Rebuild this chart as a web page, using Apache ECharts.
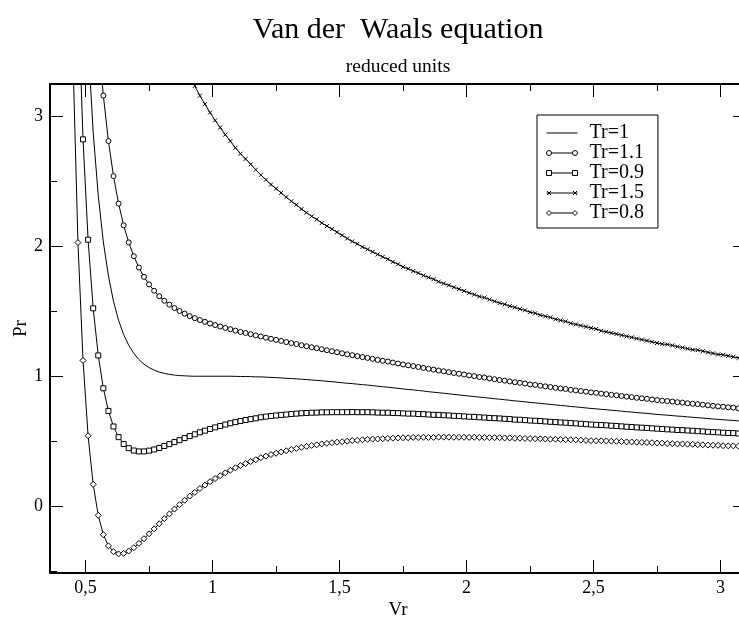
<!DOCTYPE html>
<html>
<head>
<meta charset="utf-8">
<script src="https://cdn.jsdelivr.net/npm/echarts@6/dist/echarts.min.js"></script>
<style>
  html, body { margin: 0; padding: 0; background: #fff; }
  #chart { width: 739px; height: 617px; }
</style>
</head>
<body>
<div id="chart"></div>
<script>
// reduced volume (x) - same grid for every curve
var vr = [0.45,0.47,0.49,0.51,0.53,0.55,0.57,0.59,0.61,0.63,0.65,0.67,0.69,0.71,0.73,0.75,0.77,0.79,0.81,0.83,
  0.85,0.87,0.89,0.91,0.93,0.95,0.97,0.99,1.01,1.03,1.05,1.07,1.09,1.11,1.13,1.15,1.17,1.19,1.21,1.23,
  1.25,1.27,1.29,1.31,1.33,1.35,1.37,1.39,1.41,1.43,1.45,1.47,1.49,1.51,1.53,1.55,1.57,1.59,1.61,1.63,
  1.65,1.67,1.69,1.71,1.73,1.75,1.77,1.79,1.81,1.83,1.85,1.87,1.89,1.91,1.93,1.95,1.97,1.99,2.01,2.03,
  2.05,2.07,2.09,2.11,2.13,2.15,2.17,2.19,2.21,2.23,2.25,2.27,2.29,2.31,2.33,2.35,2.37,2.39,2.41,2.43,
  2.45,2.47,2.49,2.51,2.53,2.55,2.57,2.59,2.61,2.63,2.65,2.67,2.69,2.71,2.73,2.75,2.77,2.79,2.81,2.83,
  2.85,2.87,2.89,2.91,2.93,2.95,2.97,2.99,3.01,3.03,3.05,3.07,3.09,3.11];

// reduced pressure for each Tr
var prT10 = [8.042,5.931,4.526,3.560,2.879,2.391,2.034,1.772,1.577,1.430,1.320,1.238,1.176,1.129,1.093,1.067,1.047,1.032,1.022,1.014,
  1.009,1.005,1.003,1.001,1.000,1.000,1.000,1.000,1.000,1.000,1.000,1.000,0.999,0.998,0.998,0.997,0.995,0.995,0.993,0.991,
  0.989,0.987,0.984,0.982,0.980,0.977,0.974,0.971,0.968,0.965,0.961,0.958,0.954,0.950,0.946,0.943,0.939,0.935,0.932,0.928,
  0.923,0.919,0.916,0.911,0.907,0.902,0.898,0.895,0.890,0.886,0.881,0.877,0.873,0.869,0.865,0.860,0.856,0.852,0.847,0.844,
  0.839,0.836,0.831,0.827,0.823,0.819,0.815,0.810,0.807,0.803,0.798,0.795,0.791,0.787,0.783,0.779,0.775,0.772,0.767,0.764,
  0.760,0.756,0.752,0.749,0.745,0.742,0.738,0.735,0.731,0.727,0.724,0.720,0.717,0.714,0.710,0.706,0.703,0.700,0.697,0.693,
  0.691,0.687,0.684,0.681,0.678,0.674,0.671,0.668,0.665,0.662,0.660,0.656,0.653,0.650];

var prT11 = [10.328,7.882,6.228,5.069,4.235,3.622,3.161,2.811,2.541,2.329,2.162,2.030,1.924,1.837,1.765,1.707,1.658,1.616,1.581,1.551,
  1.525,1.502,1.482,1.463,1.447,1.432,1.419,1.406,1.394,1.383,1.372,1.362,1.351,1.341,1.333,1.324,1.314,1.306,1.297,1.288,
  1.280,1.272,1.263,1.255,1.248,1.239,1.231,1.223,1.216,1.208,1.200,1.193,1.185,1.177,1.169,1.162,1.155,1.147,1.141,1.134,
  1.126,1.119,1.113,1.105,1.098,1.090,1.084,1.078,1.071,1.064,1.057,1.051,1.044,1.038,1.032,1.025,1.019,1.013,1.006,1.001,
  0.994,0.990,0.983,0.977,0.971,0.966,0.960,0.954,0.949,0.944,0.937,0.933,0.927,0.922,0.917,0.911,0.906,0.902,0.895,0.891,
  0.886,0.881,0.876,0.872,0.866,0.862,0.857,0.853,0.848,0.843,0.839,0.834,0.830,0.826,0.821,0.816,0.812,0.809,0.805,0.800,
  0.797,0.792,0.788,0.785,0.781,0.776,0.772,0.768,0.765,0.761,0.758,0.753,0.750,0.746];

var prT09 = [5.756,3.980,2.824,2.051,1.523,1.160,0.907,0.733,0.613,0.531,0.478,0.446,0.428,0.421,0.421,0.427,0.436,0.448,0.463,0.477,
  0.493,0.508,0.524,0.539,0.553,0.568,0.581,0.594,0.606,0.617,0.628,0.638,0.647,0.655,0.663,0.670,0.676,0.684,0.689,0.694,
  0.698,0.702,0.705,0.709,0.712,0.715,0.717,0.719,0.720,0.722,0.722,0.723,0.723,0.723,0.723,0.724,0.723,0.723,0.723,0.722,
  0.720,0.719,0.719,0.717,0.716,0.714,0.712,0.712,0.709,0.708,0.705,0.703,0.702,0.700,0.698,0.695,0.693,0.691,0.688,0.687,
  0.684,0.682,0.679,0.677,0.675,0.672,0.670,0.666,0.665,0.662,0.659,0.657,0.655,0.652,0.649,0.647,0.644,0.642,0.639,0.637,
  0.634,0.631,0.628,0.626,0.624,0.622,0.619,0.617,0.614,0.611,0.609,0.606,0.604,0.602,0.599,0.596,0.594,0.591,0.589,0.586,
  0.585,0.582,0.580,0.577,0.575,0.572,0.570,0.568,0.565,0.563,0.562,0.559,0.556,0.554];

var prT15 = [19.472,15.686,13.036,11.105,9.659,8.546,7.669,6.967,6.397,5.925,5.530,5.198,4.916,4.669,4.453,4.267,4.102,3.952,3.817,3.699,
  3.589,3.490,3.398,3.311,3.235,3.160,3.095,3.030,2.970,2.915,2.860,2.810,2.759,2.713,2.673,2.632,2.590,2.550,2.513,2.476,
  2.444,2.412,2.379,2.347,2.320,2.287,2.259,2.231,2.208,2.180,2.156,2.133,2.109,2.085,2.061,2.038,2.019,1.995,1.977,1.958,
  1.938,1.919,1.901,1.881,1.862,1.842,1.828,1.810,1.795,1.776,1.761,1.747,1.728,1.714,1.700,1.685,1.671,1.657,1.642,1.629,
  1.614,1.606,1.591,1.577,1.563,1.554,1.540,1.530,1.517,1.508,1.493,1.485,1.471,1.462,1.453,1.439,1.430,1.422,1.407,1.399,
  1.390,1.381,1.372,1.364,1.350,1.342,1.333,1.325,1.316,1.307,1.299,1.290,1.282,1.274,1.265,1.256,1.248,1.245,1.237,1.228,
  1.221,1.212,1.204,1.201,1.193,1.184,1.176,1.168,1.165,1.157,1.150,1.141,1.138,1.130];

var prT08 = [3.470,2.029,1.122,0.542,0.167,-0.071,-0.220,-0.306,-0.351,-0.368,-0.364,-0.346,-0.320,-0.287,-0.251,-0.213,-0.175,-0.136,-0.096,-0.060,
  -0.023,0.011,0.045,0.077,0.106,0.136,0.162,0.188,0.212,0.234,0.256,0.276,0.295,0.312,0.328,0.343,0.357,0.373,0.385,0.397,
  0.407,0.417,0.426,0.436,0.444,0.453,0.460,0.467,0.472,0.479,0.483,0.488,0.492,0.496,0.500,0.505,0.507,0.511,0.514,0.516,
  0.517,0.519,0.522,0.523,0.525,0.526,0.526,0.529,0.528,0.530,0.529,0.529,0.531,0.531,0.531,0.530,0.530,0.530,0.529,0.530,
  0.529,0.528,0.527,0.527,0.527,0.525,0.525,0.522,0.523,0.521,0.520,0.519,0.519,0.517,0.515,0.515,0.513,0.512,0.511,0.510,
  0.508,0.506,0.504,0.503,0.503,0.502,0.500,0.499,0.497,0.495,0.494,0.492,0.491,0.490,0.488,0.486,0.485,0.482,0.481,0.479,
  0.479,0.477,0.476,0.473,0.472,0.470,0.469,0.468,0.465,0.464,0.464,0.462,0.459,0.458];

var xMajor = [0.5, 1, 1.5, 2, 2.5, 3];
var xMinor = [0.75, 1.25, 1.75, 2.25, 2.75];
var yMajor = [0, 1, 2, 3];
var yMinor = [-0.5, 0.5, 1.5, 2.5];

var FONT = 'Liberation Serif';

function pairs(ys) {
  return vr.map(function (v, i) { return [v, ys[i]]; });
}

var chart = echarts.init(document.getElementById('chart'), null, { renderer: 'canvas' });

var X_MIN = 0.36, X_MAX = 3.1, Y_MIN = -0.515, Y_MAX = 3.25;

function tickAxis(pos, values, len, showLine) {
  var isX = pos === 'top' || pos === 'bottom';
  return {
    type: 'value', position: pos, min: isX ? X_MIN : Y_MIN, max: isX ? X_MAX : Y_MAX,
    axisLine: { show: showLine, onZero: false, lineStyle: { color: '#000', width: 2 } },
    axisTick: { show: true, inside: true, length: len, customValues: values, lineStyle: { color: '#000', width: 1 } },
    axisLabel: { show: false },
    splitLine: { show: false }
  };
}

var symStyle = { color: '#fff', borderColor: '#000', borderWidth: 1 };

// legend keys: grace style, a symbol at both ends of the line
var keyIcons = {
  'Tr=1':   'path://M0 0L0 0M0 2.5L31 2.5M31 5L31 5',
  'Tr=1.1': 'path://M0 2.5A2.5 2.5 0 1 1 5 2.5A2.5 2.5 0 1 1 0 2.5ZM5 2.5L26 2.5M26 2.5A2.5 2.5 0 1 1 31 2.5A2.5 2.5 0 1 1 26 2.5Z',
  'Tr=0.9': 'path://M0 0L5 0L5 5L0 5ZM5 2.5L26 2.5M26 0L31 0L31 5L26 5Z',
  'Tr=1.5': 'path://M0.5 0.5L4.5 4.5M0.5 4.5L4.5 0.5M0 2.5L31 2.5M26.5 0.5L30.5 4.5M26.5 4.5L30.5 0.5M0 0L0 0M31 5L31 5',
  'Tr=0.8': 'path://M0 2.5L2.5 0L5 2.5L2.5 5ZM5 2.5L26 2.5M26 2.5L28.5 0L31 2.5L28.5 5Z'
};
var legendNames = ['Tr=1', 'Tr=1.1', 'Tr=0.9', 'Tr=1.5', 'Tr=0.8'];

var option = {
  animation: false,
  backgroundColor: '#fff',
  title: {
    text: 'Van der  Waals equation',
    subtext: 'reduced units',
    left: 398, top: 15, textAlign: 'center', padding: 0, itemGap: 12,
    textStyle: { fontFamily: FONT, fontSize: 30, fontWeight: 'normal', color: '#000', lineHeight: 30 },
    subtextStyle: { fontFamily: FONT, fontSize: 19.5, color: '#000', lineHeight: 19 }
  },
  legend: {
    orient: 'vertical', left: 537, top: 115,
    padding: [8, 14, 5, 9],
    borderColor: '#000', borderWidth: 1,
    itemWidth: 31, itemHeight: 5, itemGap: 0,
    itemStyle: { color: '#fff', borderColor: '#000', borderWidth: 1 },
    textStyle: { fontFamily: FONT, fontSize: 20, color: '#000', lineHeight: 20, padding: [0, 0, 0, 7] },
    data: legendNames.map(function (n) { return { name: n, icon: keyIcons[n] }; })
  },
  grid: { left: 50, top: 84, right: -7, bottom: 44, containLabel: false, outerBoundsMode: 'none' },
  xAxis: [
    {
      type: 'value', position: 'bottom', min: X_MIN, max: X_MAX,
      name: 'Vr', nameLocation: 'middle', nameGap: 28, nameMoveOverlap: false,
      nameTextStyle: { fontFamily: FONT, fontSize: 19, color: '#000' },
      axisLine: { show: true, onZero: false, lineStyle: { color: '#000', width: 2 } },
      axisTick: { show: true, inside: true, length: 13, customValues: xMajor, lineStyle: { color: '#000', width: 1 } },
      axisLabel: {
        customValues: xMajor, margin: 6, fontFamily: FONT, fontSize: 18, color: '#000',
        formatter: function (v) { return String(v).replace('.', ','); }
      },
      splitLine: { show: false }
    },
    tickAxis('bottom', xMinor, 7, false),
    tickAxis('top', xMajor, 13, true),
    tickAxis('top', xMinor, 7, false)
  ],
  yAxis: [
    {
      type: 'value', position: 'left', min: Y_MIN, max: Y_MAX,
      name: 'Pr', nameLocation: 'middle', nameGap: 19, nameRotate: 90, nameMoveOverlap: false,
      nameTextStyle: { fontFamily: FONT, fontSize: 19, color: '#000' },
      axisLine: { show: true, onZero: false, lineStyle: { color: '#000', width: 2 } },
      axisTick: { show: true, inside: true, length: 13, customValues: yMajor, lineStyle: { color: '#000', width: 1 } },
      axisLabel: { customValues: yMajor, margin: 7, fontFamily: FONT, fontSize: 18, color: '#000' },
      splitLine: { show: false }
    },
    tickAxis('left', yMinor, 7, false),
    tickAxis('right', yMajor, 13, true),
    tickAxis('right', yMinor, 7, false)
  ],
  series: [
    {
      name: 'Tr=1', type: 'line', data: pairs(prT10), showSymbol: false, symbol: 'none',
      lineStyle: { color: '#000', width: 1 }, itemStyle: { color: '#000' }
    },
    {
      name: 'Tr=1.1', type: 'line', data: pairs(prT11), symbol: 'circle', symbolSize: 5,
      lineStyle: { color: '#000', width: 1 }, itemStyle: symStyle
    },
    {
      name: 'Tr=0.9', type: 'line', data: pairs(prT09), symbol: 'rect', symbolSize: 5,
      lineStyle: { color: '#000', width: 1 }, itemStyle: symStyle
    },
    {
      name: 'Tr=1.5', type: 'line', data: pairs(prT15), symbol: 'path://M0 0L10 10M10 0L0 10', symbolSize: 4,
      lineStyle: { color: '#000', width: 1 }, itemStyle: { color: 'none', borderColor: '#000', borderWidth: 1 }
    },
    {
      name: 'Tr=0.8', type: 'line', data: pairs(prT08), symbol: 'diamond', symbolSize: 6,
      lineStyle: { color: '#000', width: 1 }, itemStyle: symStyle
    }
  ]
};

chart.setOption(option);
</script>
</body>
</html>
